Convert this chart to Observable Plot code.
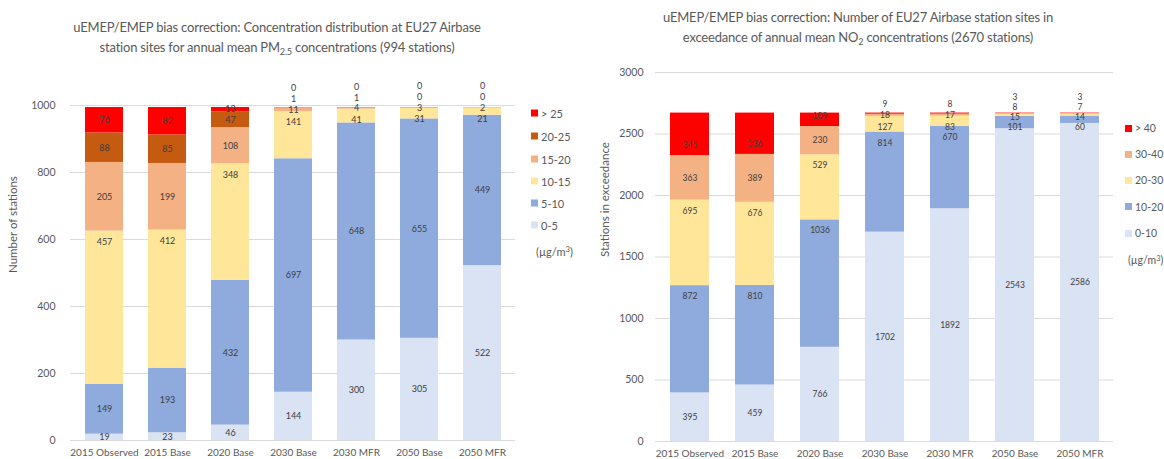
<!DOCTYPE html>
<html>
<head>
<meta charset="utf-8">
<script src="https://cdn.jsdelivr.net/npm/d3@7"></script>
<script src="https://cdn.jsdelivr.net/npm/@observablehq/plot@0.6"></script>
<style>
  html, body { margin: 0; padding: 0; background: #fff; }
  #wrap { position: relative; width: 1164px; height: 459px; overflow: hidden; font-family: Lato, "Noto Sans", sans-serif; }
  .title { position: absolute; text-align: center; color: #595959; font-size: 13px; letter-spacing: -0.2px; line-height: 20px; white-space: nowrap; }
  .title sub { font-size: 70%; vertical-align: -0.3em; line-height: 0; }
  .chart { position: absolute; }
  .legend { position: absolute; color: #595959; font-size: 11px; }
  .legend .item { position: absolute; white-space: nowrap; display: flex; align-items: center; transform: translateY(-50%); }
  .legend .sw { width: 7px; height: 7px; margin-right: 3px; }
  .legend sup { font-size: 70%; vertical-align: 0.45em; line-height: 0; }
</style>
</head>
<body>
<div id="wrap">
  <div class="title" style="left:0px; width:554px; top:17px;">uEMEP/EMEP bias correction: Concentration distribution at EU27 Airbase<br>station sites for annual mean PM<sub>2.5</sub> concentrations (994 stations)</div>
  <div class="title" style="left:580px; width:556px; top:7px;">uEMEP/EMEP bias correction: Number of EU27 Airbase station sites in<br>exceedance of annual mean NO<sub>2</sub> concentrations (2670 stations)</div>
  <div id="pmChart" class="chart" style="left:0px; top:60px;"></div>
  <div id="no2Chart" class="chart" style="left:580px; top:40px;"></div>
  <div id="pmLegend" class="legend"></div>
  <div id="no2Legend" class="legend" style="font-size:10.5px;"></div>
</div>
<script>
// ---------------- Data ----------------
const categories = ["2015 Observed", "2015 Base", "2020 Base", "2030 Base", "2030 MFR", "2050 Base", "2050 MFR"];

// PM2.5 (994 stations), bins in µg/m³
const pmSeries = ["0-5", "5-10", "10-15", "15-20", "20-25", "> 25"];
const pm_0_5   = [19, 23, 46, 144, 300, 305, 522];
const pm_5_10  = [149, 193, 432, 697, 648, 655, 449];
const pm_10_15 = [457, 412, 348, 141, 41, 31, 21];
const pm_15_20 = [205, 199, 108, 11, 4, 3, 2];
const pm_20_25 = [88, 85, 47, 1, 1, 0, 0];
const pm_gt25  = [76, 82, 13, 0, 0, 0, 0];
const pmYTicks = [0, 200, 400, 600, 800, 1000];

// NO2 (2670 stations), bins in µg/m³
const no2Series = ["0-10", "10-20", "20-30", "30-40", "> 40"];
const no2_0_10  = [395, 459, 766, 1702, 1892, 2543, 2586];
const no2_10_20 = [872, 810, 1036, 814, 670, 101, 60];
const no2_20_30 = [695, 676, 529, 127, 83, 15, 14];
const no2_30_40 = [363, 389, 230, 18, 17, 8, 7];
const no2_gt40  = [345, 336, 109, 9, 8, 3, 3];
const no2YTicks = [0, 500, 1000, 1500, 2000, 2500, 3000];

// ---------------- Styling ----------------
const pmColors  = ["#DAE3F3", "#8FAADC", "#FFE699", "#F4B183", "#C55A11", "#FF0000"];
const no2Colors = ["#DAE3F3", "#8FAADC", "#FFE699", "#F4B183", "#FF0000"];

function buildRows(seriesNames, seriesValues) {
  const rows = [];
  categories.forEach((c, i) => {
    seriesNames.forEach((s, k) => rows.push({cat: c, series: s, value: seriesValues[k][i]}));
  });
  return rows;
}

// label placement: centred / near top / near bottom of a segment, then pushed apart
function buildLabels(seriesNames, seriesValues, modes, offTop, offBottom, gap) {
  const out = [];
  categories.forEach((c, i) => {
    let base = 0, prev = -Infinity;
    seriesNames.forEach((s, k) => {
      const v = seriesValues[k][i];
      const y1 = base, y2 = base + v;
      let y = modes[k] === "top" ? y2 - offTop : modes[k] === "bottom" ? y1 + offBottom : (y1 + y2) / 2;
      y = Math.max(y, prev + gap);
      prev = y;
      out.push({cat: c, value: v, y});
      base = y2;
    });
  });
  return out;
}

function makeChart(cfg) {
  const rows = buildRows(cfg.series, cfg.values);
  const labels = buildLabels(cfg.series, cfg.values, cfg.modes, cfg.offTop, cfg.offBottom, cfg.gap);
  return Plot.plot({
    width: cfg.width, height: cfg.height,
    marginTop: cfg.mt, marginBottom: cfg.mb, marginLeft: cfg.ml, marginRight: cfg.mr,
    style: {fontFamily: "Lato, 'Noto Sans', sans-serif", fontSize: "10px", color: "#595959", background: "transparent", overflow: "visible"},
    x: {domain: categories, paddingInner: 0.4, paddingOuter: 0.2, label: null},
    y: {domain: [0, cfg.yTicks[cfg.yTicks.length - 1]], label: null},
    color: {domain: cfg.series, range: cfg.colors},
    marks: [
      Plot.gridY(cfg.yTicks, {stroke: "#d9d9d9", strokeOpacity: 1}),
      Plot.barY(rows, {x: "cat", y: "value", fill: "series"}),
      Plot.text(labels, {x: "cat", y: "y", text: d => String(d.value), fill: "#404040", fontSize: cfg.labelSize}),
      Plot.axisX({tickSize: 0, tickPadding: 8, fill: "#595959", fontSize: 10, label: null}),
      Plot.axisY(cfg.yTicks, {tickSize: 0, tickPadding: cfg.tickPad, tickFormat: d => String(d), fill: "#595959", fontSize: 10.5, label: null}),
      Plot.text([cfg.yLabel], {frameAnchor: "left", rotate: -90, dx: -cfg.yLabelOffset, fill: "#595959", fontSize: 11.5})
    ]
  });
}

document.getElementById("pmChart").appendChild(makeChart({
  width: 580, height: 399, mt: 45, mb: 19, ml: 70, mr: 65,
  series: pmSeries, colors: pmColors,
  values: [pm_0_5, pm_5_10, pm_10_15, pm_15_20, pm_20_25, pm_gt25],
  modes: ["center", "center", "top", "center", "center", "center"],
  offTop: 33, offBottom: 0, gap: 32, labelSize: 9,
  yTicks: pmYTicks, tickPad: 15, yLabel: "Number of stations", yLabelOffset: 57
}));

document.getElementById("no2Chart").appendChild(makeChart({
  width: 584, height: 419, mt: 32, mb: 18, ml: 75, mr: 51,
  series: no2Series, colors: no2Colors,
  values: [no2_0_10, no2_10_20, no2_20_30, no2_30_40, no2_gt40],
  modes: ["center", "top", "top", "center", "bottom"],
  offTop: 88, offBottom: 80, gap: 80, labelSize: 8.5,
  yTicks: no2YTicks, tickPad: 12, yLabel: "Stations in exceedance", yLabelOffset: 50
}));

function makeLegend(el, seriesNames, colors, swX, rowYs, unitX, unitY) {
  const items = seriesNames.map((s, k) => ({s, c: colors[k]})).reverse();
  items.forEach((it, j) => {
    const d = document.createElement("div");
    d.className = "item";
    d.style.left = swX + "px";
    d.style.top = rowYs[j] + "px";
    d.innerHTML = `<span class="sw" style="background:${it.c}"></span><span>${it.s}</span>`;
    el.appendChild(d);
  });
  const u = document.createElement("div");
  u.className = "item";
  u.style.left = unitX + "px";
  u.style.top = unitY + "px";
  u.innerHTML = "<span>(µg/m<sup>3</sup>)</span>";
  el.appendChild(u);
}
makeLegend(document.getElementById("pmLegend"), pmSeries, pmColors, 531, [113, 136, 158.5, 180.5, 202.5, 225], 536, 251);
makeLegend(document.getElementById("no2Legend"), no2Series, no2Colors, 1125, [128, 154, 180, 206.5, 233], 1128, 260);
</script>
</body>
</html>
